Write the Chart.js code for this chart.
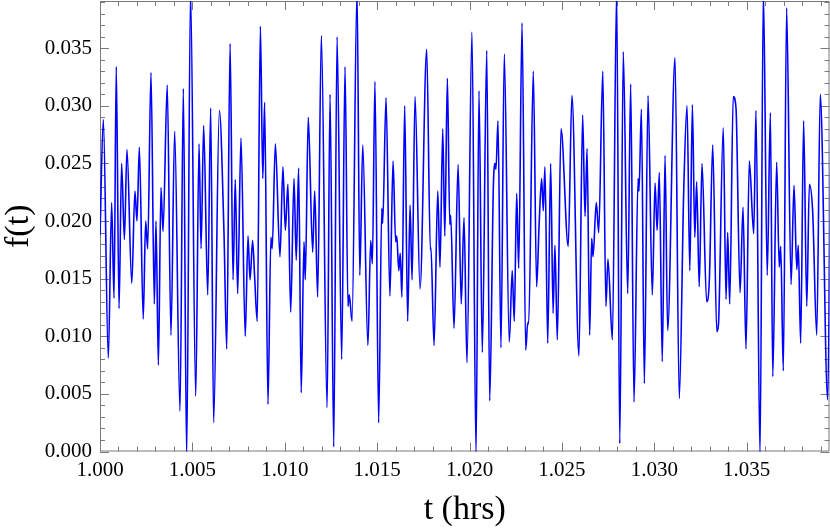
<!DOCTYPE html>
<html>
<head>
<meta charset="utf-8">
<script src="https://cdn.jsdelivr.net/npm/chart.js@4/dist/chart.umd.min.js"></script>
<style>
html,body{margin:0;padding:0;background:#fff;}
canvas{display:block;}
</style>
</head>
<body>
<canvas id="c" width="830" height="528"></canvas>
<script>
const tVals = [
1.00000,1.00018,1.00045,1.00063,1.00076,1.00088,1.00103,1.00117,1.00132,1.00146,
1.00172,1.00189,1.00200,1.00213,1.00234,1.00247,1.00258,1.00276,1.00294,1.00303,
1.00316,1.00330,1.00341,1.00364,1.00384,1.00404,1.00433,1.00451,1.00469,1.00490,
1.00518,1.00536,1.00547,1.00561,1.00583,1.00599,1.00615,1.00646,1.00671,1.00686,
1.00704,1.00720,1.00732,1.00745,1.00763,1.00786,1.00801,1.00812,1.00826,1.00837,
1.00851,1.00868,1.00881,1.00891,1.00909,1.00925,1.00932,1.00949,1.00974,1.00990,
1.01003,1.01017,1.01032,1.01050,1.01062,1.01075,1.01089,1.01104,1.01111,1.01127,
1.01151,1.01162,1.01178,1.01198,1.01229,1.01245,1.01265,1.01283,1.01308,1.01326,
1.01342,1.01349,1.01364,1.01391,1.01406,1.01422,1.01450,1.01465,1.01474,1.01488,
1.01508,1.01525,1.01530,1.01548,1.01569,1.01586,1.01600,1.01606,1.01617,1.01625,
1.01634,1.01649,1.01665,1.01678,1.01689,1.01705,1.01732,1.01768,1.01788,1.01791,
1.01808,1.01828,1.01840,1.01855,1.01866,1.01880,1.01893,1.01898,1.01916,1.01938,
1.01955,1.01970,1.01986,1.02013,1.02035,1.02051,1.02069,1.02093,1.02109,1.02129,
1.02138,1.02143,1.02154,1.02170,1.02188,1.02215,1.02231,1.02242,1.02255,1.02266,
1.02284,1.02304,1.02315,1.02320,1.02345,1.02363,1.02376,1.02390,1.02399,1.02408,
1.02423,1.02439,1.02452,1.02462,1.02475,1.02495,1.02534,1.02554,1.02592,1.02612,
1.02625,1.02636,1.02650,1.02661,1.02668,1.02686,1.02699,1.02721,1.02738,1.02749,
1.02773,1.02796,1.02813,1.02832,1.02856,1.02872,1.02890,1.02912,1.02917,1.02930,
1.02946,1.02966,1.02989,1.03004,1.03015,1.03027,1.03043,1.03058,1.03072,1.03112,
1.03135,1.03159,1.03177,1.03192,1.03206,1.03219,1.03229,1.03243,1.03258,1.03283,
1.03298,1.03316,1.03338,1.03347,1.03373,1.03388,1.03397,1.03408,1.03427,1.03442,
1.03464,1.03480,1.03496,1.03514,1.03538,1.03550,1.03572,1.03590,1.03611,1.03628,
1.03641,1.03662,1.03676,1.03684,1.03698,1.03716,1.03740,1.03756,1.03771,1.03779,
1.03792,1.03808,1.03825,1.03839,1.03857,1.03879,1.03898,1.03938,1.03956
];
const fVals = [
0.0188,0.0288,0.0081,0.0216,0.0133,0.0334,0.0124,0.0250,0.0184,0.0262,
0.0146,0.0226,0.0200,0.0264,0.0115,0.0200,0.0176,0.0329,0.0128,0.0200,
0.0075,0.0229,0.0191,0.0318,0.0101,0.0278,0.0035,0.0315,-0.0005,0.0400,
0.0048,0.0267,0.0176,0.0283,0.0136,0.0298,0.0025,0.0296,0.0190,0.0089,
0.0354,0.0149,0.0236,0.0137,0.0272,0.0100,0.0187,0.0149,0.0183,0.0151,
0.0113,0.0369,0.0237,0.0303,0.0041,0.0186,0.0176,0.0267,0.0169,0.0247,
0.0192,0.0232,0.0121,0.0237,0.0166,0.0246,0.0051,0.0182,0.0149,0.0290,
0.0173,0.0226,0.0134,0.0361,0.0038,0.0310,0.0004,0.0360,0.0080,0.0334,
0.0126,0.0136,0.0113,0.0400,0.0153,0.0266,0.0092,0.0183,0.0163,0.0321,
0.0025,0.0211,0.0198,0.0307,0.0135,0.0252,0.0182,0.0187,0.0157,0.0172,
0.0134,0.0300,0.0113,0.0214,0.0149,0.0308,0.0141,0.0349,0.0175,0.0177,
0.0092,0.0226,0.0160,0.0280,0.0187,0.0324,0.0197,0.0205,0.0107,0.0249,
0.0128,0.0203,0.0077,0.0364,-0.0003,0.0313,0.0086,0.0348,0.0044,0.0231,
0.0250,0.0245,0.0287,0.0090,0.0345,0.0095,0.0157,0.0113,0.0224,0.0159,
0.0372,0.0088,0.0112,0.0111,0.0330,0.0143,0.0195,0.0237,0.0209,0.0247,
0.0094,0.0250,0.0120,0.0179,0.0097,0.0280,0.0178,0.0309,0.0083,0.0292,
0.0204,0.0263,0.0101,0.0185,0.0169,0.0216,0.0190,0.0330,0.0126,0.0167,
0.0097,0.0400,0.0007,0.0347,0.0137,0.0319,0.0043,0.0237,0.0226,0.0297,
0.0059,0.0309,0.0136,0.0233,0.0192,0.0242,0.0078,0.0257,0.0105,0.0342,
0.0046,0.0226,0.0300,0.0157,0.0301,0.0186,0.0234,0.0143,0.0250,0.0130,
0.0150,0.0266,0.0104,0.0110,0.0281,0.0132,0.0190,0.0128,0.0308,0.0298,
0.0138,0.0212,0.0089,0.0252,0.0189,0.0296,-0.0003,0.0400,0.0153,0.0294,
0.0065,0.0251,0.0160,0.0178,0.0070,0.0385,0.0145,0.0231,0.0158,0.0179,
0.0094,0.0287,0.0126,0.0232,0.0208,0.0101,0.0310,0.0045,0.0300
];
const xTicks = [1.000,1.005,1.010,1.015,1.020,1.025,1.030,1.035];
const yTicks = [0.000,0.005,0.010,0.015,0.020,0.025,0.030,0.035];
const xRange = [1.0, 1.03948];
const yRange = [0.0, 0.0391];

const points = tVals.map((t,i)=>({x:t,y:fVals[i]}));
const serif = "'Liberation Serif','Times New Roman',serif";

const frame = {
  id:'frame',
  beforeDatasetsDraw(chart){
    const {ctx, chartArea:a, scales:{x,y}} = chart;
    ctx.save();
    ctx.strokeStyle = '#7a7a7a';
    ctx.lineWidth = 1;
    ctx.beginPath();
    ctx.rect(a.left+0.5, a.top+0.5, a.right-a.left-1, a.bottom-a.top-1);
    ctx.stroke();
    ctx.beginPath();
    const majX = new Set(xTicks.map(v=>v.toFixed(3)));
    for (let k=0; ; k++){
      const v = xRange[0] + k*0.001;
      if (v > xRange[1]) break;
      const px = Math.round(x.getPixelForValue(v))+0.5;
      const L = majX.has(v.toFixed(3)) ? 9 : 5;
      ctx.moveTo(px, a.bottom); ctx.lineTo(px, a.bottom-L);
      ctx.moveTo(px, a.top); ctx.lineTo(px, a.top+L);
    }
    const majY = new Set(yTicks.map(v=>v.toFixed(3)));
    for (let k=0; ; k++){
      const v = yRange[0] + k*0.001;
      if (v > yRange[1]) break;
      const py = Math.round(y.getPixelForValue(v))+0.5;
      const L = majY.has(v.toFixed(3)) ? 9 : 5;
      ctx.moveTo(a.left, py); ctx.lineTo(a.left+L, py);
      ctx.moveTo(a.right, py); ctx.lineTo(a.right-L, py);
    }
    ctx.stroke();
    ctx.restore();
  }
};

new Chart(document.getElementById('c'), {
  type:'line',
  data:{datasets:[{
    data:points,
    borderColor:'#0000ff',
    borderWidth:1.6,
    pointRadius:0,
    fill:false,
    cubicInterpolationMode:'monotone'
  }]},
  options:{
    responsive:false,
    animation:false,
    devicePixelRatio:1,
    layout:{padding:{top:1,right:0.5,left:0,bottom:0}},
    plugins:{legend:{display:false},tooltip:{enabled:false}},
    scales:{
      x:{
        type:'linear', min:xRange[0], max:xRange[1],
        grid:{display:false, drawTicks:false},
        border:{display:false},
        afterBuildTicks(s){ s.ticks = xTicks.map(v=>({value:v})); },
        afterFit(s){ s.height = 76.5; s.paddingLeft = 0; s.paddingRight = 0; },
        ticks:{
          color:'#000', padding:6, maxRotation:0, autoSkip:false,
          font:{family:serif, size:21},
          callback:(v)=>Number(v).toFixed(3)
        },
        title:{display:true, text:'t (hrs)', color:'#000',
          font:{family:serif, size:34}, padding:{top:0,bottom:-2}}
      },
      y:{
        type:'linear', min:yRange[0], max:yRange[1],
        grid:{display:false, drawTicks:false},
        border:{display:false},
        afterBuildTicks(s){ s.ticks = yTicks.map(v=>({value:v})); },
        afterFit(s){ s.width = 100; s.paddingTop = 0; s.paddingBottom = 0; },
        ticks:{
          color:'#000', padding:8, autoSkip:false,
          font:{family:serif, size:21},
          callback:(v)=>Number(v).toFixed(3)
        },
        title:{display:true, text:'f(t)', color:'#000',
          font:{family:serif, size:34}, padding:{top:-1,bottom:0}}
      }
    }
  },
  plugins:[frame]
});
</script>
</body>
</html>
